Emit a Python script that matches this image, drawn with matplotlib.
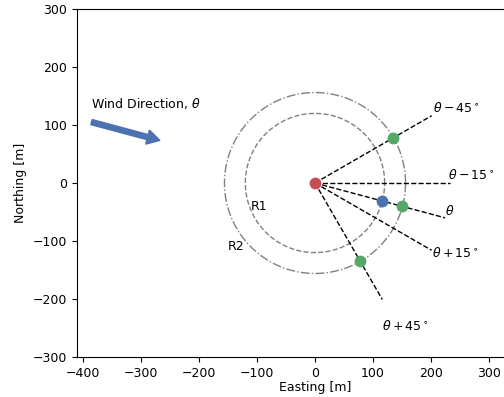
import numpy as np
import matplotlib.pyplot as plt

# layout data (metres)
R1 = 120
R2 = 156
ray_len = 232
theta = -15  # wind direction angle (deg, math convention)
ray_offsets = [-45, -15, 0, 15, 45]
ray_labels = [r"$\theta-45^\circ$", r"$\theta-15^\circ$", r"$\theta$",
              r"$\theta+15^\circ$", r"$\theta+45^\circ$"]
label_x = [203, 229, 224, 202, 115]
label_y = [117, 2, -60, -133, -259]

# turbines: (offset from theta, radius, colour)
turb_offsets = [0, -45, 0, 45]
turb_radii = [R1, R2, R2, R2]
turb_colors = ["#4C72B0", "#55A868", "#55A868", "#55A868"]

fig = plt.figure(figsize=(5.04, 3.97), dpi=100)
ax = fig.add_axes([77 / 504, 40 / 397, 476 / 504, 348 / 397])

t = np.linspace(0, 2 * np.pi, 400)
ax.plot(R1 * np.cos(t), R1 * np.sin(t), ls="--", color="gray", lw=1)
ax.plot(R2 * np.cos(t), R2 * np.sin(t), ls="-.", color="gray", lw=1)

for off, lab, lx, ly in zip(ray_offsets, ray_labels, label_x, label_y):
    a = np.radians(theta - off)
    ax.plot([0, ray_len * np.cos(a)], [0, ray_len * np.sin(a)], "k--", lw=1)
    ax.text(lx, ly, lab, ha="left", va="bottom", fontsize=9)

ax.plot(0, 0, "o", color="#C44E52", ms=7.5)
for off, r, c in zip(turb_offsets, turb_radii, turb_colors):
    a = np.radians(theta - off)
    ax.plot(r * np.cos(a), r * np.sin(a), "o", color=c, ms=7.5)

a = np.radians(theta)
ax.arrow(-385, 105, 100 * np.cos(a), 100 * np.sin(a), width=9, head_width=25,
         head_length=22, color="#4C72B0", length_includes_head=False)
ax.text(-386, 129, r"Wind Direction, $\theta$", fontsize=9)
ax.text(-110, -47, "R1", fontsize=9)
ax.text(-150, -115, "R2", fontsize=9)

ax.set_xlim(-410, 410)
ax.set_ylim(-300, 300)
ax.set_xticks([-400, -300, -200, -100, 0, 100, 200, 300])
ax.set_yticks([-300, -200, -100, 0, 100, 200, 300])
ax.tick_params(labelsize=9)
ax.set_xlabel("Easting [m]", fontsize=9, labelpad=1)
ax.set_ylabel("Northing [m]", fontsize=9)

plt.savefig("out.png", dpi=100)
